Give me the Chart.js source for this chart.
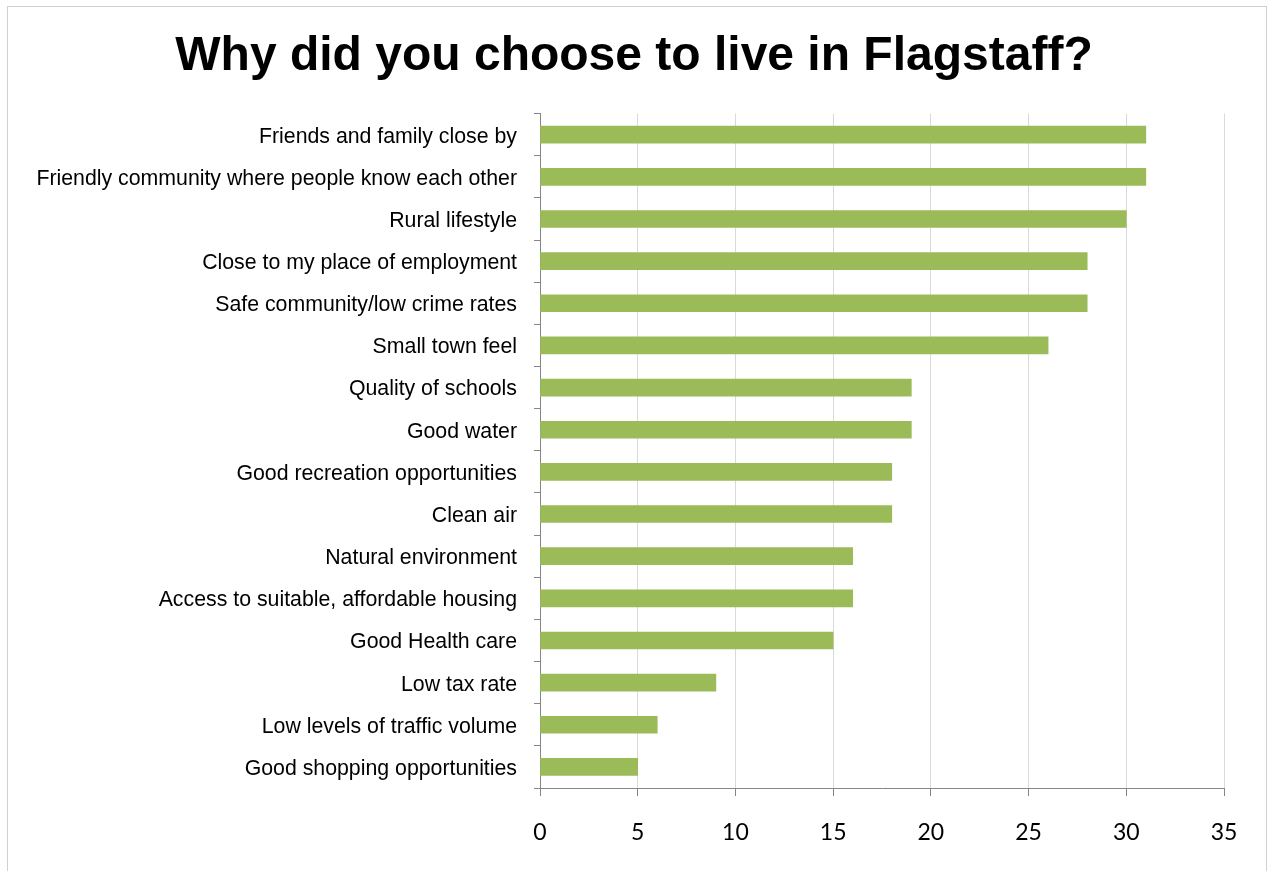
<!DOCTYPE html>
<html>
<head>
<meta charset="utf-8">
<script src="https://cdn.jsdelivr.net/npm/chart.js@4/dist/chart.umd.min.js"></script>
<style>
  html, body { margin: 0; padding: 0; background: #fff; }
  #wrap { position: relative; width: 1268px; height: 871px; overflow: hidden; }
  #frame {
    position: absolute; left: 7px; top: 6px; width: 1260px; height: 900px;
    border: 1px solid #d0d0d0; box-sizing: border-box;
  }
  #chart { position: absolute; left: 0; top: 0; }
</style>
</head>
<body>
<div id="wrap">
  <div id="frame"></div>
  <canvas id="chart" width="1268" height="871"></canvas>
</div>
<script>
const reasons = [
  'Friends and family close by',
  'Friendly community where people know each other',
  'Rural lifestyle',
  'Close to my place of employment',
  'Safe community/low crime rates',
  'Small town feel',
  'Quality of schools',
  'Good water',
  'Good recreation opportunities',
  'Clean air',
  'Natural environment',
  'Access to suitable, affordable housing',
  'Good Health care',
  'Low tax rate',
  'Low levels of traffic volume',
  'Good shopping opportunities',
];
const responses = [31, 31, 30, 28, 28, 26, 19, 19, 18, 18, 16, 16, 15, 9, 6, 5];
const xTicks = [0, 5, 10, 15, 20, 25, 30, 35];

const axisGray = '#868686';

const ctx = document.getElementById('chart').getContext('2d');

const chart = new Chart(ctx, {
  type: 'bar',
  data: {
    labels: reasons,
    datasets: [{
      data: responses,
      backgroundColor: '#9bbb59',
      borderWidth: 0,
      barThickness: 17,
    }],
  },
  options: {
    indexAxis: 'y',
    responsive: false,
    animation: false,
    layout: { padding: 0 },
    plugins: {
      legend: { display: false },
      tooltip: { enabled: false },
      title: {
        display: true,
        text: 'Why did you choose to live in Flagstaff?',
        color: '#000',
        font: { family: '"Liberation Sans", Arial, sans-serif', size: 48, weight: 'bold' },
        padding: { top: 28, bottom: 28 },
      },
    },
    scales: {
      x: {
        position: 'bottom',
        min: xTicks[0],
        max: xTicks[xTicks.length - 1],
        afterBuildTicks: scale => { scale.ticks = xTicks.map(v => ({ value: v })); },
        afterFit: scale => { scale.height = 83; },
        grid: {
          color: '#d9d9d9',
          tickColor: axisGray,
          tickLength: 8,
          lineWidth: 1,
        },
        border: { color: axisGray, width: 1 },
        ticks: {
          color: '#000',
          padding: 23,
          font: { family: 'Lato, "Open Sans", sans-serif', size: 23 },
        },
      },
      y: {
        afterFit: scale => { scale.width = 540; },
        grid: {
          offset: true,
          drawOnChartArea: false,
          tickColor: axisGray,
          tickLength: 6,
        },
        border: { color: axisGray, width: 1 },
        ticks: {
          color: '#000',
          padding: 17,
          labelOffset: 2,
          autoSkip: false,
          font: { family: '"Liberation Sans", Arial, sans-serif', size: 21.3 },
        },
      },
      // empty strip on the right so the plot ends at x=1224 while the title stays centred on the page
      yRight: {
        type: 'category',
        position: 'right',
        afterFit: scale => { scale.width = 44; },
        grid: { display: false },
        border: { display: false },
        ticks: { display: false },
      },
    },
  },
});
</script>
</body>
</html>
